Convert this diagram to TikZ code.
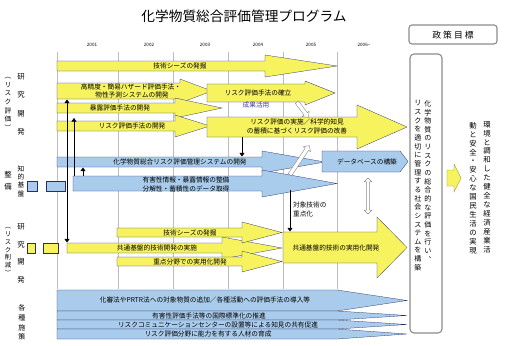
\documentclass[tikz,border=0pt]{standalone}
\usepackage{fontspec}
\setmainfont{Noto Sans CJK JP}
\usepackage{xcolor}
\usepackage{tikz}
\usetikzlibrary{positioning, arrows.meta, shapes.arrows}
\definecolor{barYellow}{HTML}{F6F35E}
\definecolor{barBlue}{HTML}{A9CCEC}
\definecolor{edgeNavy}{HTML}{2A2D66}
\definecolor{gridGray}{HTML}{BDBDBD}
\definecolor{frameGray}{HTML}{8C8C8C}
\definecolor{noteBlue}{HTML}{3A3AA8}

\tikzset{
  ybar/.style={fill=barYellow, draw=edgeNavy, line width=0.4pt},
  bbar/.style={fill=barBlue, draw=edgeNavy, line width=0.4pt},
  lbl/.style={inner sep=0pt, font=\fontsize{9.5}{12.6}\selectfont, align=center},
  yearlbl/.style={inner sep=0pt, font=\fontsize{6.5}{8}\selectfont},
  gridline/.style={draw=gridGray, line width=0.4pt},
  frame/.style={draw=frameGray, line width=1.6pt, rounded corners=0.2cm},
  vcol/.style={inner sep=0pt, align=center},
  link/.style={line width=0.5pt, -{Triangle[length=5pt, width=7pt]}},
  hollow/.style={single arrow, draw=frameGray, fill=white, line width=0.6pt,
    inner sep=0.9mm, single arrow head extend=1.2mm},
}

% block arrow: [style]{x0}{x1}{ytop}{ybot}{flare}{xtip}
\newcommand{\blockarrow}[7][]{%
  \path[#1] ({#2},{#4}) -- ({#3},{#4}) -- ({#3},{#4-#6}) -- ({#7},{(#4+#5)/2})
    -- ({#3},{#5+#6}) -- ({#3},{#5}) -- ({#2},{#5}) -- cycle;}

\begin{document}
\begin{tikzpicture}[x=0.05cm, y=-0.05cm]
  \useasboundingbox (0,0) rectangle (508,346);

  \node[inner sep=0pt, font=\fontsize{19.5}{22}\selectfont] (title) at (244,16) {化学物質総合評価管理プログラム};

  % years
  \foreach \yr/\xx in {2001/92, 2002/149, 2003/205, 2004/258, 2005/311}
    \node[yearlbl] (y\yr) at (\xx,45) {\yr};
  \node[yearlbl] (y2006) at (364,45) {2006\textasciitilde};
  \foreach \gx in {57,118,173,228,283,337}
    \draw[gridline] (\gx,52) -- (\gx,289);

  % left headings
  \node[vcol, font=\fontsize{10.5}{26}\selectfont] (rdA) at (21,104.5) {研\\究\\開\\発};
  \node[vcol, font=\fontsize{9.5}{12.3}\selectfont] (rdAsub) at (8,104) {︵\\リ\\ス\\ク\\評\\価\\︶};
  \node[vcol, font=\fontsize{10.5}{17}\selectfont] (infra) at (8,181) {整\\備};
  \node[vcol, font=\fontsize{9.5}{11.8}\selectfont] (infraSub) at (21,181) {知\\的\\基\\盤};
  \node[vcol, font=\fontsize{10.5}{25}\selectfont] (rdB) at (21,253.5) {研\\究\\開\\発};
  \node[vcol, font=\fontsize{9}{11.1}\selectfont] (rdBsub) at (8,251.5) {︵\\リ\\ス\\ク\\削\\減\\︶};
  \node[vcol, font=\fontsize{10}{13.7}\selectfont] (policy) at (22,322.5) {各\\種\\施\\策};

  % risk assessment R&D
  \blockarrow[ybar]{57}{265}{61}{71}{6}{337}
  \node[lbl] (seedsA) at (180,66) {技術シーズの発掘};
  \blockarrow[ybar]{57}{180}{83}{99}{4}{212}
  \blockarrow[ybar]{57}{175}{103}{113}{5}{222}
  \blockarrow[ybar]{57}{175}{121}{131}{6}{210}
  \node[lbl] (hazard) at (131,87) {高精度・簡易ハザード評価手法・};
  \node[lbl] (property) at (132,94.5) {物性予測システムの開発};
  \node[lbl] (exposure) at (120,108) {暴露評価手法の開発};
  \node[lbl] (methodDev) at (132,126) {リスク評価手法の開発};
  \blockarrow[ybar]{207}{305}{84}{102}{3}{335}
  \node[lbl] (method) at (258,93) {リスク評価手法の確立};
  \blockarrow[ybar]{207}{357}{117}{137}{12}{407}
  \node[lbl] (practice) at (297,126.5) {リスク評価の実施／科学的知見\\の蓄積に基づくリスク評価の改善};
  \node[lbl, text=noteBlue] (use) at (256,105) {成果活用};

  % knowledge infrastructure
  \blockarrow[bbar]{57}{262}{157}{167}{6}{325}
  \node[lbl] (system) at (180,162) {化学物質総合リスク評価管理システムの開発};
  \path[bbar] (322,151) -- (400,151) -- (408,161.5) -- (400,172) -- (322,172) -- cycle;
  \node[lbl] (database) at (367,162) {データベースの構築};
  \path[bbar] (27,181) rectangle (37,191);
  \path[bbar] (46,181) rectangle (65,191);
  \blockarrow[bbar]{73}{262}{176}{191}{6}{337}
  \node[lbl] (data) at (186,184.5) {有害性情報・暴露情報の整備\\分解性・蓄積性のデータ取得};
  \node[lbl, align=left, anchor=west] (focus) at (293,209.5) {対象技術の\\重点化};

  % risk reduction R&D
  \path[ybar] (27,243) rectangle (35,253);
  \path[ybar] (43,243) rectangle (58,253);
  \blockarrow[ybar]{67}{222}{243}{253}{6}{282}
  \blockarrow[ybar]{117}{242}{228}{237}{6}{282}
  \blockarrow[ybar]{117}{242}{257}{266}{6}{282}
  \node[lbl] (common) at (157,248) {共通基盤的技術開発の実施};
  \node[lbl] (seedsB) at (190,232.5) {技術シーズの発掘};
  \node[lbl] (priority) at (190,261.5) {重点分野での実用化開発};
  \blockarrow[ybar]{283}{377}{232}{263}{15}{407}
  \node[lbl] (applied) at (336,247.5) {共通基盤的技術の実用化開発};

  % policies
  \blockarrow[bbar]{57}{337}{290}{311}{0}{407}
  \blockarrow[bbar]{57}{337}{311}{320}{0}{407}
  \blockarrow[bbar]{57}{337}{320}{329}{0}{407}
  \blockarrow[bbar]{57}{337}{329}{339}{0}{407}
  \node[lbl] (law) at (205,300) {化審法やPRTR法への対象物質の追加／各種活動への評価手法の導入等};
  \node[lbl] (intl) at (209,315.5) {有害性評価手法等の国際標準化の推進};
  \node[lbl] (comm) at (218,324.5) {リスクコミュニケーションセンターの設置等による知見の共有促進};
  \node[lbl] (hr) at (208,334) {リスク評価分野に能力を有する人材の育成};

  % connectors
  \coordinate (hazBot) at (67,99.5);
  \coordinate (commonTop) at (67,242.5);
  \coordinate (dataTopA) at (74,176);
  \coordinate (methodBot) at (74,118);
  \coordinate (dataTopB) at (83,176);
  \coordinate (systemBot) at (83,167.5);
  \coordinate (practiceBot) at (242,137);
  \coordinate (systemTop) at (242,156.5);
  \coordinate (focusTop) at (290,190);
  \coordinate (appliedTop) at (290,231.5);
  \draw[line width=0.5pt, {Triangle[length=5pt, width=7pt]}-{Triangle[length=5pt, width=7pt]}] (hazBot) -- (commonTop);
  \draw[link] (dataTopA) -- (methodBot);
  \draw[link] (dataTopB) -- (systemBot);
  \draw[link] (practiceBot) -- (systemTop);
  \draw[link] (focusTop) -- (appliedTop);

  \coordinate (useFrom) at (296,101);
  \coordinate (useTo) at (308,117);
  \path (useFrom) -- (useTo) node[midway, sloped, hollow, minimum height=0.95cm] (useArrow) {};
  \coordinate (dbFrom) at (289,176);
  \coordinate (dbTo) at (309,146);
  \path (dbFrom) -- (dbTo) node[midway, sloped, hollow, minimum height=1.75cm] (dbArrow) {};
  \coordinate (linkTop) at (368,178);
  \coordinate (linkBot) at (368,214);
  \path (linkTop) -- (linkBot) node[midway, sloped, double arrow, draw=frameGray, fill=white,
    line width=0.6pt, inner sep=0.6mm, double arrow head extend=1.2mm, minimum height=1.8cm] (dbLink) {};

  % goals
  \draw[frame, rounded corners=0.15cm] (409,25) rectangle (497,44);
  \node[inner sep=0pt, font=\fontsize{12.5}{14}\selectfont] (goalHead) at (453,35) {政\hspace{3pt}策\hspace{3pt}目\hspace{3pt}標};
  \draw[frame] (410,54) rectangle (442,333);
  \node[vcol, font=\fontsize{10}{12.3}\selectfont] (visionR) at (428,181.3)
    {化\\学\\物\\質\\の\\リ\\ス\\ク\\の\\総\\合\\的\\な\\評\\価\\を\\行\\い\\︑};
  \node[vcol, font=\fontsize{10}{12.3}\selectfont] (visionL) at (418,185.7)
    {リ\\ス\\ク\\を\\適\\切\\に\\管\\理\\す\\る\\社\\会\\シ\\ス\\テ\\ム\\を\\構\\築};
  \blockarrow[fill=barYellow, draw=barYellow!60!black, line width=0.4pt]{447}{454}{170}{186}{6}{461}
  \node[vcol, font=\fontsize{10.5}{12.7}\selectfont] (goalR) at (487,187)
    {環\\境\\と\\調\\和\\し\\た\\健\\全\\な\\経\\済\\産\\業\\活};
  \node[vcol, font=\fontsize{10.5}{12.7}\selectfont] (goalL) at (473,188)
    {動\\と\\安\\全\\・\\安\\心\\な\\国\\民\\生\\活\\の\\実\\現};
\end{tikzpicture}
\end{document}
